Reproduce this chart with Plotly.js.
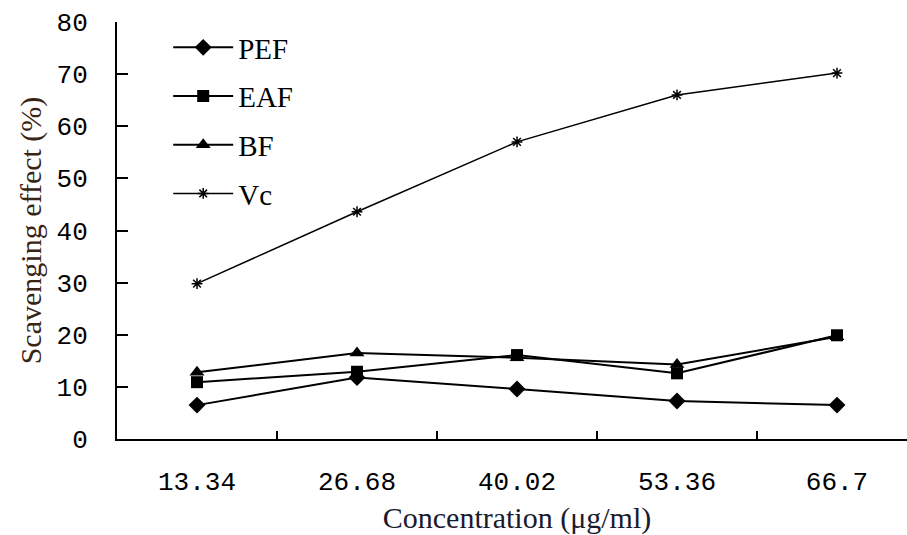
<!DOCTYPE html>
<html>
<head>
<meta charset="utf-8">
<script src="https://cdn.plot.ly/plotly-3.0.1.min.js"></script>
<style>
html, body { margin: 0; padding: 0; overflow: hidden; background: #fff; }
#chart { width: 917px; height: 535px; }
</style>
</head>
<body>
<div id="chart"></div>
<script>
const categories = ["13.34", "26.68", "40.02", "53.36", "66.7"];
const seriesNames = ["PEF", "EAF", "BF", "Vc"];
const pefValues = [6.5, 11.8, 9.6, 7.3, 6.5];
const eafValues = [10.9, 12.9, 16.1, 12.6, 19.9];
const bfValues  = [12.8, 16.5, 15.6, 14.3, 19.6];
const vcValues  = [29.8, 43.6, 57.0, 66.0, 70.2];
const yTicks = [0, 10, 20, 30, 40, 50, 60, 70, 80];

const symbols = ["diamond", "square", "triangle-up", "asterisk-open"];
const sizes = [13, 12, 13, 9];
const allValues = [pefValues, eafValues, bfValues, vcValues];

const traces = allValues.map((vals, i) => ({
  type: "scatter",
  mode: "lines+markers",
  name: seriesNames[i],
  legendgroup: "g" + i,
  x: categories,
  y: vals,
  line: { color: "#000", width: i === 3 ? 1.5 : 2 },
  marker: { symbol: symbols[i], size: sizes[i], color: "#000", line: { color: "#000", width: i === 3 ? 1.5 : 0 } }
}));

const layout = {
  width: 917,
  height: 535,
  margin: { l: 117, r: 0, t: 22, b: 96 },
  paper_bgcolor: "#fff",
  plot_bgcolor: "#fff",
  showlegend: true,
  legend: {
    x: 0.064, xanchor: "left",
    y: 1.0, yanchor: "top",
    bgcolor: "rgba(0,0,0,0)",
    font: { family: "'Liberation Serif', serif", size: 29, color: "#000" },
    itemwidth: 60,
    tracegroupgap: 8,
    traceorder: "grouped"
  },
  xaxis: {
    type: "category",
    categoryorder: "array",
    categoryarray: categories,
    range: [-0.5, 4.5],
    showgrid: false,
    zeroline: false,
    showline: true,
    linecolor: "#000",
    linewidth: 2,
    ticks: "inside",
    tickson: "boundaries",
    ticklen: 8,
    tickwidth: 2,
    tickcolor: "#000",
    ticklabelstandoff: 18,
    tickfont: { family: "'Liberation Mono', monospace", size: 26, color: "#000" },
    title: {
      text: "Concentration (μg/ml)",
      font: { family: "'Liberation Serif', serif", size: 30, color: "#1a1a2e" },
      standoff: 10
    }
  },
  yaxis: {
    range: [0, 80],
    tickvals: yTicks,
    ticktext: yTicks.map(String),
    showgrid: false,
    zeroline: false,
    showline: true,
    linecolor: "#000",
    linewidth: 2,
    ticks: "inside",
    ticklen: 11,
    tickwidth: 2,
    tickcolor: "#000",
    ticklabelstandoff: 22,
    tickfont: { family: "'Liberation Mono', monospace", size: 26, color: "#000" },
    title: {
      text: "Scavenging effect (%)",
      font: { family: "'Liberation Serif', serif", size: 30, color: "#3a2414" },
      standoff: 6
    }
  }
};

Plotly.newPlot("chart", traces, layout, { displayModeBar: false, staticPlot: true });
</script>
</body>
</html>
